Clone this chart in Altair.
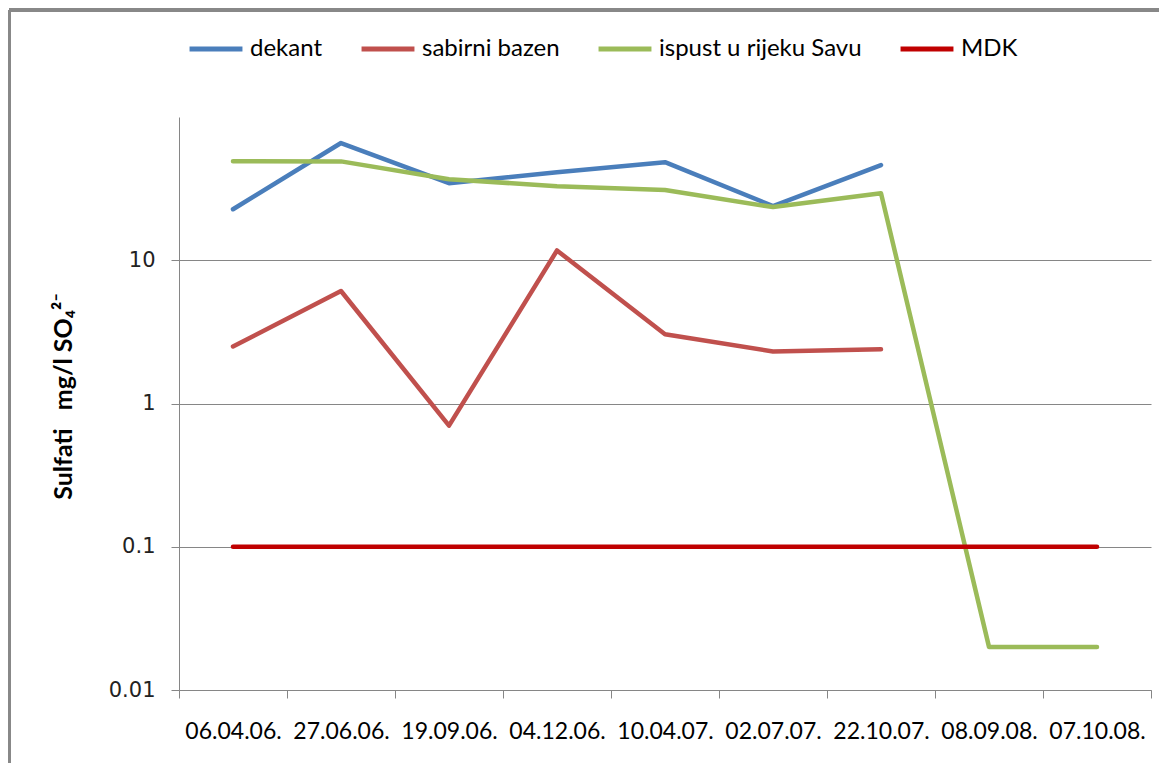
import altair as alt
import pandas as pd

dates = ["06.04.06.", "27.06.06.", "19.09.06.", "04.12.06.", "10.04.07.",
         "02.07.07.", "22.10.07.", "08.09.08.", "07.10.08."]
series = ["dekant", "sabirni bazen", "ispust u rijeku Savu", "MDK"]
colors = ["#4A7EBB", "#C0504D", "#9BBB59", "#C00000"]

dekant = [22.7, 65.8, 34.5, 41.2, 48.4, 23.9, 46.2, None, None]
sabirni = [2.5, 6.1, 0.70, 11.7, 3.04, 2.31, 2.39, None, None]
ispust = [49.2, 49.0, 36.8, 32.9, 30.9, 23.5, 29.4, 0.02, 0.02]
mdk = [0.1, 0.1, 0.1, 0.1, 0.1, 0.1, 0.1, 0.1, 0.1]

rows = []
for name, vals in zip(series, [dekant, sabirni, ispust, mdk]):
    for d, v in zip(dates, vals):
        if v is not None:
            rows.append({"date": d, "series": name, "value": v})
df = pd.DataFrame(rows)

lines = alt.Chart(df).mark_line(strokeWidth=4.5, strokeCap="round", strokeJoin="round").encode(
    x=alt.X("date:N", sort=dates, bandPosition=0.5,
            scale=alt.Scale(type="band", paddingInner=0, paddingOuter=0),
            axis=alt.Axis(title=None, tickBand="extent", labelAngle=0, labelFont="Lato",
                          labelFontSize=23, labelColor="#000000", labelPadding=22,
                          tickSize=8, tickColor="#868686", domainColor="#868686",
                          grid=False, labelOverlap=False)),
    y=alt.Y("value:Q",
            scale=alt.Scale(type="log", domain=[0.01, 100]),
            axis=alt.Axis(title="Sulfati\u00a0\u00a0 mg/l SO₄²⁻", values=[0.01, 0.1, 1, 10], format="~g",
                          labelFont="DejaVu Sans", labelFontSize=21, labelColor="#222222",
                          labelPadding=16, tickSize=8, tickColor="#868686",
                          domainColor="#868686", gridColor="#868686",
                          titleFont="Lato", titleFontSize=25, titleFontWeight="bold",
                          titleColor="#000000", titleX=-116, titleY=279,
                          titleAlign="center", titleBaseline="middle", titleAngle=270)),
    color=alt.Color("series:N", scale=alt.Scale(domain=series, range=colors),
                    legend=alt.Legend(title=None, orient="none", legendX=8, legendY=-97,
                                      direction="horizontal", symbolType="stroke",
                                      symbolStrokeWidth=5, symbolSize=2800, labelLimit=0,
                                      labelFont="Lato", labelFontSize=24,
                                      labelColor="#000000", columnPadding=28, labelOffset=5)),
    order=alt.Order("series:N"),
)

frame_left = alt.Chart(df).mark_rule(color="#888888", strokeWidth=3).encode(
    x=alt.value(-170), y=alt.value(-107), y2=alt.value(700))
frame_top = alt.Chart(df).mark_rule(color="#888888", strokeWidth=3).encode(
    x=alt.value(-170), x2=alt.value(1000), y=alt.value(-107))

chart = alt.layer(frame_left, frame_top, lines).properties(
    width=972, height=573,
    autosize=alt.AutoSizeParams(type="none"),
    padding={"left": 171, "top": 109, "right": 8, "bottom": 73},
).configure_view(stroke=None)

chart.save("out.html", embed_options={"renderer": "svg", "actions": False})
